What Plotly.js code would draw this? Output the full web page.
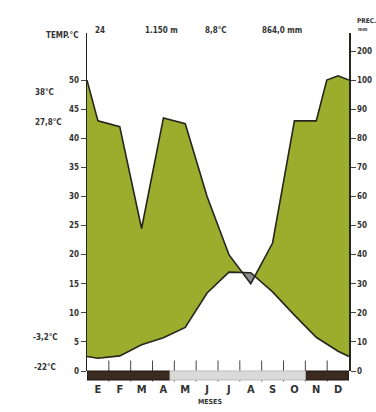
<!DOCTYPE html>
<html><head><meta charset="utf-8">
<script src="https://cdn.plot.ly/plotly-3.0.1.min.js"></script>
<style>html,body{margin:0;padding:0;background:#fff}#chart{width:376px;height:412px}</style>
</head><body><div id="chart"></div>
<script>
// ---- data ----
const months = ['E','F','M','A','M','J','J','A','S','O','N','D'];
const temperature = [2.2, 2.6, 4.5, 5.7, 7.5, 13.4, 17.0, 16.9, 13.6, 9.6, 5.8, 3.4]; // °C
const precipitation = [86, 84, 49, 87, 85, 60, 40, 30, 44, 86, 86, 115];             // mm
const tempEdge = 2.5;     // value drawn at the Dec/Jan boundary
const precipEdge = 100;   // value drawn at the Dec/Jan boundary
const tempTicks = [0,5,10,15,20,25,30,35,40,45,50];
const precipTicks = [0,10,20,30,40,50,60,70,80,90,100,200];
const monthBounds = [1,2,3,4,5,6,7,8,9,10,11];
const frostSure = [[0,3.8],[10,12]];
const frostPossible = [[3.8,10]];
const headerTexts = ['24','1.150 m','8,8°C','864,0 mm'];
const sideLabels = ['38°C','27,8°C','-3,2°C','-22°C'];

// ---- climograph scale: P = 2T up to 100 mm, compressed above ----
function pScale(p){ return p <= 100 ? p/2 : 50 + (p-100)/20; }

const FONT = 'Liberation Sans Narrow, DejaVu Sans Condensed, Arial Narrow, sans-serif';
const INK = '#26261e';
const GREEN = '#9aad2c';

const xc = months.map((m,i)=>i+0.5);
const tRaw = [{x:0,y:tempEdge}].concat(xc.map((x,i)=>({x,y:temperature[i]})), [{x:12,y:tempEdge}]);
const pRaw = [{x:0,y:precipEdge}].concat(xc.map((x,i)=>({x,y:precipitation[i]})), [{x:12,y:precipEdge}]);
// add scale break points where precipitation crosses 100 mm
const pPts = [];
for(let i=0;i<pRaw.length;i++){
  if(i>0){
    const a=pRaw[i-1], b=pRaw[i];
    if((a.y-100)*(b.y-100) < 0){
      const f=(100-a.y)/(b.y-a.y);
      pPts.push({x:a.x+f*(b.x-a.x), y:pScale(100)});
    }
  }
  pPts.push({x:pRaw[i].x, y:pScale(pRaw[i].y)});
}
const tPts = tRaw.map(p=>({x:p.x,y:p.y}));

function interp(pts,x){
  for(let i=0;i<pts.length-1;i++){
    const a=pts[i], b=pts[i+1];
    if(x>=a.x && x<=b.x){ const t=(b.x===a.x)?0:(x-a.x)/(b.x-a.x); return a.y+t*(b.y-a.y); }
  }
  return pts[pts.length-1].y;
}
// dry region (temperature above precipitation)
const xs = [...new Set(tPts.map(p=>p.x).concat(pPts.map(p=>p.x)))].sort((a,b)=>a-b);
const dry=[]; let cur=null;
for(let i=0;i<xs.length;i++){
  const x=xs[i], t=interp(tPts,x), p=interp(pPts,x), d=t-p;
  if(i>0){
    const x0=xs[i-1], t0=interp(tPts,x0), p0=interp(pPts,x0), d0=t0-p0;
    if((d0>0)!==(d>0) && d0!==d){
      const f=d0/(d0-d), xi=x0+f*(x-x0), yi=t0+f*(t-t0);
      if(cur){ cur.push({x:xi,t:yi,p:yi}); dry.push(cur); cur=null; }
      else cur=[{x:xi,t:yi,p:yi}];
    }
  }
  if(d>0){ if(!cur) cur=[]; cur.push({x,t,p}); }
}
if(cur) dry.push(cur);
const dryX=[], dryY=[];
dry.forEach((poly,k)=>{
  if(k>0){dryX.push(null);dryY.push(null);}
  poly.forEach(q=>{dryX.push(q.x);dryY.push(q.t);});
  poly.slice().reverse().forEach(q=>{dryX.push(q.x);dryY.push(q.p);});
});

const traces = [
  {x: pPts.map(p=>p.x).concat(tPts.map(p=>p.x).reverse()),
   y: pPts.map(p=>p.y).concat(tPts.map(p=>p.y).reverse()),
   mode:'lines', fill:'toself', fillcolor:GREEN, line:{width:0}, hoverinfo:'skip', showlegend:false},
  {x: dryX, y: dryY, mode:'lines', fill:'toself', fillcolor:'#8c8c8c', line:{width:0}, hoverinfo:'skip', showlegend:false},
  {x: tPts.map(p=>p.x), y: tPts.map(p=>p.y), mode:'lines', line:{color:INK,width:1.6}, name:'Temperatura', showlegend:false},
  {x: pPts.map(p=>p.x), y: pPts.map(p=>p.y), yaxis:'y2', mode:'lines', line:{color:INK,width:1.6}, name:'Precipitación', showlegend:false},
  // month-boundary tick marks on the base line
  {x: monthBounds, y: monthBounds.map(()=>0), mode:'markers', cliponaxis:false, hoverinfo:'skip', showlegend:false,
   marker:{symbol:'line-ns-open', size:15, color:'#444', line:{width:1, color:'#444'}}}
];

const W=262, H=338; // plot area in px
const px=(v)=> (v-87)/W, py=(v)=> (371-v)/H;

const shapes = [];
frostSure.forEach(r=>shapes.push({type:'rect', xref:'x', yref:'paper', x0:r[0], x1:r[1], y0:-9/H, y1:0, fillcolor:'#3a2a1f', line:{color:'#1e1510',width:1}, layer:'above'}));
frostPossible.forEach(r=>shapes.push({type:'rect', xref:'x', yref:'paper', x0:r[0], x1:r[1], y0:-9/H, y1:0, fillcolor:'#dadada', line:{color:'#bdbdbd',width:1}, layer:'above'}));

const tf = {family:FONT, size:8, color:'#333', weight:'bold'};
const ann = (text,x,y,opts)=>Object.assign({text, xref:'paper', yref:'paper', x, y, showarrow:false, font:tf, xanchor:'center', yanchor:'middle'}, opts||{});
const annotations = [
  ann('TEMP.°C', px(80), py(35), {xanchor:'right'}),
  ann(headerTexts[0], px(100), py(30)),
  ann(headerTexts[1], px(161), py(30)),
  ann(headerTexts[2], px(216), py(30)),
  ann(headerTexts[3], px(282), py(30)),
  ann('PREC.', px(355), py(21), {xanchor:'left', font:Object.assign({},tf,{size:6.5})}),
  ann('mm', px(356), py(29), {xanchor:'left', font:Object.assign({},tf,{size:5})}),
  ann(sideLabels[0], px(44), py(92)),
  ann(sideLabels[1], px(48), py(122)),
  ann(sideLabels[2], px(45), py(337)),
  ann(sideLabels[3], px(45), py(367)),
  ann('MESES', px(210), py(402), {font:Object.assign({},tf,{size:7})})
];

const layout = {
  width:376, height:412,
  margin:{l:87, r:27, t:33, b:41, pad:0},
  paper_bgcolor:'#fff', plot_bgcolor:'#fff',
  showlegend:false,
  xaxis:{range:[0,12], showgrid:false, zeroline:false, showline:false,
    tickmode:'array', tickvals:xc, ticktext:months, ticks:'',
    ticklabelstandoff:10, tickfont:{family:FONT, size:11, color:'#333', weight:'bold'}},
  yaxis:{range:[0,58.1], showgrid:false, zeroline:false, showline:true, linecolor:INK, linewidth:1.5,
    tickmode:'array', tickvals:tempTicks, ticks:'outside', ticklen:5, tickwidth:1, tickcolor:'#444',
    tickfont:tf},
  yaxis2:{range:[0,58.1], overlaying:'y', side:'right', showgrid:false, zeroline:false, showline:true, linecolor:INK, linewidth:1.5,
    tickmode:'array', tickvals:precipTicks.map(pScale), ticktext:precipTicks.map(String), ticks:'outside', ticklen:5, tickwidth:1, tickcolor:'#444',
    tickfont:tf},
  shapes, annotations
};
Plotly.newPlot('chart', traces, layout, {staticPlot:true, displayModeBar:false});
</script></body></html>
